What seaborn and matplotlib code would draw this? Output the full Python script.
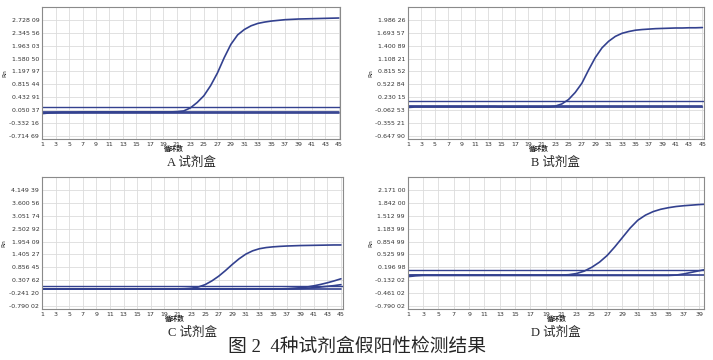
import matplotlib
matplotlib.use('Agg')
import matplotlib.pyplot as plt
import seaborn as sns

# 循环数
cycles45 = list(range(1, 46))
cycles40 = list(range(1, 41))

# A 试剂盒
A_pos = [0.00, 0.00, 0.00, 0.00, 0.00, 0.00, 0.00, 0.00, 0.00, 0.00,
         0.00, 0.00, 0.00, 0.00, 0.00, 0.00, 0.00, 0.00, 0.00, 0.00,
         0.01, 0.03, 0.12, 0.28, 0.48, 0.78, 1.15, 1.60, 2.00, 2.28,
         2.44, 2.55, 2.62, 2.66, 2.69, 2.71, 2.73, 2.74, 2.75, 2.755,
         2.76, 2.765, 2.77, 2.775, 2.78]
A_neg1 = [-0.05, -0.03, -0.02, -0.01, -0.01, -0.01, 0.00, 0.00, 0.00, 0.00,
          0.00, 0.00, 0.00, 0.00, 0.00, 0.00, 0.00, 0.00, 0.00, 0.00,
          0.00, 0.00, 0.00, 0.00, 0.00, 0.00, 0.00, 0.00, 0.00, 0.00,
          0.00, 0.00, 0.00, 0.00, 0.00, 0.00, 0.00, 0.00, 0.00, 0.00,
          0.00, 0.00, 0.00, 0.00, 0.00]
A_neg2 = [-0.02, -0.02, -0.02, -0.02, -0.02, -0.02, -0.02, -0.02, -0.02, -0.02,
          -0.02, -0.02, -0.02, -0.02, -0.02, -0.02, -0.02, -0.02, -0.02, -0.02,
          -0.02, -0.02, -0.02, -0.02, -0.02, -0.02, -0.02, -0.02, -0.02, -0.02,
          -0.02, -0.02, -0.02, -0.02, -0.02, -0.02, -0.02, -0.02, -0.02, -0.02,
          -0.02, -0.02, -0.02, -0.02, -0.02]
A_thr = 0.136
A_yticks = [-0.71469, -0.33216, 0.05037, 0.43291, 0.81544, 1.19797, 1.58050, 1.96303, 2.34556, 2.72809]

# B 试剂盒
B_pos = [0.02, 0.02, 0.02, 0.02, 0.02, 0.02, 0.02, 0.02, 0.02, 0.02,
         0.02, 0.02, 0.02, 0.02, 0.01, 0.01, 0.01, 0.01, 0.01, 0.01,
         0.01, 0.01, 0.03, 0.08, 0.18, 0.34, 0.55, 0.85, 1.13, 1.35,
         1.50, 1.61, 1.68, 1.72, 1.75, 1.765, 1.775, 1.785, 1.79, 1.795,
         1.80, 1.80, 1.805, 1.805, 1.81]
B_neg1 = [0.00, 0.01, 0.01, 0.01, 0.01, 0.01, 0.01, 0.01, 0.01, 0.01,
          0.01, 0.01, 0.01, 0.01, 0.01, 0.01, 0.01, 0.01, 0.01, 0.01,
          0.01, 0.01, 0.01, 0.01, 0.01, 0.01, 0.01, 0.01, 0.01, 0.01,
          0.01, 0.01, 0.01, 0.01, 0.01, 0.01, 0.01, 0.01, 0.01, 0.01,
          0.01, 0.01, 0.01, 0.01, 0.01]
B_neg2 = [0.03, 0.03, 0.03, 0.03, 0.03, 0.03, 0.03, 0.03, 0.03, 0.03,
          0.03, 0.03, 0.03, 0.03, 0.03, 0.03, 0.03, 0.03, 0.03, 0.03,
          0.03, 0.03, 0.03, 0.03, 0.03, 0.03, 0.03, 0.03, 0.03, 0.03,
          0.03, 0.03, 0.03, 0.03, 0.03, 0.03, 0.03, 0.03, 0.03, 0.03,
          0.03, 0.03, 0.03, 0.03, 0.03]
B_thr = 0.145
B_yticks = [-0.64790, -0.35521, -0.06253, 0.23015, 0.52284, 0.81552, 1.10821, 1.40089, 1.69357, 1.98626]

# C 试剂盒
C_pos = [-0.06, -0.06, -0.06, -0.06, -0.06, -0.06, -0.06, -0.06, -0.06, -0.06,
         -0.06, -0.06, -0.06, -0.06, -0.06, -0.06, -0.06, -0.06, -0.06, -0.06,
         -0.06, -0.05, -0.03, 0.02, 0.12, 0.28, 0.48, 0.72, 0.98, 1.22,
         1.42, 1.56, 1.65, 1.70, 1.73, 1.75, 1.765, 1.775, 1.785, 1.79,
         1.795, 1.80, 1.805, 1.81, 1.81]
C_neg1 = [-0.07, -0.06, -0.06, -0.06, -0.06, -0.06, -0.06, -0.06, -0.06, -0.06,
          -0.06, -0.06, -0.06, -0.06, -0.06, -0.06, -0.06, -0.06, -0.06, -0.06,
          -0.06, -0.06, -0.06, -0.06, -0.06, -0.06, -0.06, -0.06, -0.06, -0.06,
          -0.06, -0.06, -0.06, -0.06, -0.06, -0.06, -0.05, -0.03, -0.01, 0.02,
          0.07, 0.13, 0.20, 0.28, 0.37]
C_neg2 = [-0.06, -0.06, -0.06, -0.06, -0.06, -0.06, -0.06, -0.06, -0.06, -0.06,
          -0.06, -0.06, -0.06, -0.06, -0.06, -0.06, -0.06, -0.06, -0.06, -0.06,
          -0.06, -0.06, -0.06, -0.06, -0.06, -0.06, -0.06, -0.06, -0.06, -0.06,
          -0.06, -0.06, -0.06, -0.06, -0.06, -0.06, -0.06, -0.06, -0.05, -0.03,
          -0.01, 0.02, 0.05, 0.08, 0.12]
C_neg3 = [-0.07, -0.07, -0.07, -0.07, -0.07, -0.07, -0.07, -0.07, -0.07, -0.07,
          -0.07, -0.07, -0.07, -0.07, -0.07, -0.07, -0.07, -0.07, -0.07, -0.07,
          -0.07, -0.07, -0.07, -0.07, -0.07, -0.07, -0.07, -0.07, -0.07, -0.07,
          -0.07, -0.07, -0.07, -0.07, -0.07, -0.07, -0.07, -0.07, -0.07, -0.07,
          -0.07, -0.07, -0.07, -0.07, -0.07]
C_thr = 0.054
C_yticks = [-0.79002, -0.24120, 0.30762, 0.85645, 1.40527, 1.95409, 2.50292, 3.05174, 3.60056, 4.14939]

# D 试剂盒
D_pos = [-0.01, 0.00, 0.00, 0.00, 0.00, 0.00, 0.00, 0.00, 0.00, 0.00,
         0.00, 0.00, 0.00, 0.00, 0.00, 0.00, 0.00, 0.00, 0.00, 0.00,
         0.00, 0.01, 0.04, 0.10, 0.20, 0.33, 0.50, 0.72, 0.96, 1.20,
         1.40, 1.53, 1.62, 1.68, 1.72, 1.75, 1.77, 1.785, 1.80, 1.81]
D_neg1 = [-0.04, -0.02, -0.01, -0.01, -0.01, -0.01, -0.01, -0.01, -0.01, -0.01,
          -0.01, -0.01, -0.01, -0.01, -0.01, -0.01, -0.01, -0.01, -0.01, -0.01,
          -0.01, -0.01, -0.01, -0.01, -0.01, -0.01, -0.01, -0.01, -0.01, -0.01,
          -0.01, -0.01, -0.01, -0.01, -0.01, 0.00, 0.03, 0.07, 0.11, 0.15]
D_neg2 = [-0.01, -0.01, -0.01, -0.01, -0.01, -0.01, -0.01, -0.01, -0.01, -0.01,
          -0.01, -0.01, -0.01, -0.01, -0.01, -0.01, -0.01, -0.01, -0.01, -0.01,
          -0.01, -0.01, -0.01, -0.01, -0.01, -0.01, -0.01, -0.01, -0.01, -0.01,
          -0.01, -0.01, -0.01, -0.01, -0.01, -0.01, -0.01, -0.01, -0.01, -0.01]
D_thr = 0.13
D_yticks = [-0.79002, -0.46102, -0.13202, 0.19698, 0.52599, 0.85499, 1.18399, 1.51299, 1.84200, 2.17100]

sns.set_style("white")
plt.rcParams['font.family'] = ['DejaVu Sans', 'Noto Sans CJK SC']

line_color = '#33418f'
cjk_serif = ['Liberation Serif', 'Noto Sans CJK SC']

fig = plt.figure(figsize=(7.13, 3.6), dpi=100)

panels = [
    # rect, cycles, curves, threshold, yticks, caption, xmax
    ([0.059, 0.614, 0.418, 0.367], cycles45, [A_pos, A_neg1, A_neg2], A_thr, A_yticks, 'A 试剂盒', 45.2),
    ([0.572, 0.614, 0.415, 0.367], cycles45, [B_pos, B_neg1, B_neg2], B_thr, B_yticks, 'B 试剂盒', 45.2),
    ([0.059, 0.142, 0.422, 0.366], cycles45, [C_pos, C_neg1, C_neg2, C_neg3], C_thr, C_yticks, 'C 试剂盒', 45.3),
    ([0.572, 0.142, 0.415, 0.366], cycles40, [D_pos, D_neg1, D_neg2], D_thr, D_yticks, 'D 试剂盒', 39.6),
]

for rect, cyc, curves, thr, yticks, caption, xmax in panels:
    ax = fig.add_axes(rect)
    step = yticks[1] - yticks[0]
    for vals in curves:
        sns.lineplot(x=cyc, y=vals, ax=ax, color=line_color, linewidth=1.2)
    ax.axhline(thr, color=line_color, linewidth=1.0)
    ax.set_xlim(1, xmax)
    ax.set_ylim(yticks[0] - 0.22 * step, yticks[-1] + 1.0 * step)
    ax.set_xticks(cyc[::2])
    ax.set_xticklabels([str(c) for c in cyc[::2]])
    ax.set_yticks(yticks)
    labels = []
    for v in yticks:
        s = f"{v:.5f}"
        labels.append(s[:-2] + " " + s[-2:])
    ax.set_yticklabels(labels)
    ax.tick_params(axis='both', length=0, labelsize=4.5, colors='#333333', pad=2)
    ax.grid(True, color='#dcdcdc', linewidth=0.6)
    for sp in ax.spines.values():
        sp.set_color('#8a8a8a')
        sp.set_linewidth(0.8)
    ax.set_ylabel('Rn', fontsize=4.2)
    ax.yaxis.set_label_coords(-0.118, 0.5)
    ax.text(20.5, -0.045, '循环数', transform=ax.get_xaxis_transform(),
            fontsize=4.8, fontweight='bold', ha='center', va='top',
            family=['Noto Sans CJK SC', 'DejaVu Sans'])
    ax.text(0.5, -0.135, caption, transform=ax.transAxes, fontsize=9,
            ha='center', va='top', family=cjk_serif)

fig.text(0.5, 0.035, '图 2  4种试剂盒假阳性检测结果', fontsize=13.5,
         ha='center', va='center', family=cjk_serif)

fig.savefig('out.png', dpi=100)
